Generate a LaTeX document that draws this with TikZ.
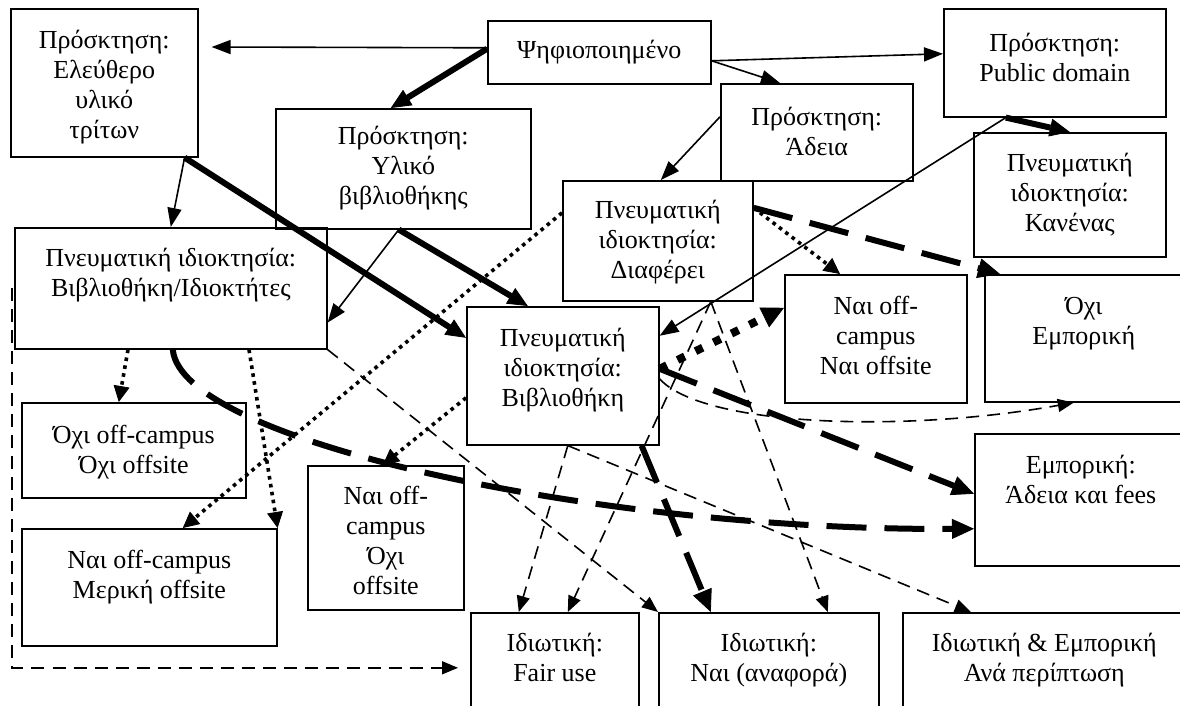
\documentclass[tikz,border=0pt]{standalone}
\usepackage{fontspec}
\setmainfont{Liberation Serif}
\usetikzlibrary{arrows.meta}

% text of a box: width, height, first baseline, lines
\newcommand{\boxtxt}[4]{\parbox[t][#2][t]{#1}{\centering\rule{0pt}{#3}#4}}

\begin{document}
\begin{tikzpicture}[x=0.5pt, y=-0.5pt,
    box/.style={draw, line width=0.8pt, inner sep=0pt, anchor=north west,
      font=\fontsize{13pt}{14.9pt}\selectfont},
    plainarr/.style={line width=0.8pt, -{Triangle[length=9.5pt,width=7pt]}},
    heavyarr/.style={line width=3pt, -{Triangle[length=10pt,width=9pt,line width=0.4pt]}},
    dotarr/.style={line width=1.8pt, dash pattern=on 1.8pt off 2.2pt,
      -{Triangle[length=8pt,width=8pt,line width=0.4pt]}},
    heavydot/.style={line width=4pt, dash pattern=on 4pt off 6pt,
      -{Triangle[length=11pt,width=11pt,line width=0.4pt]}},
    dasharr/.style={line width=0.8pt, dash pattern=on 6.5pt off 4pt,
      -{Triangle[length=8pt,width=6.5pt]}},
    heavydash/.style={line width=3pt, dash pattern=on 20pt off 9pt,
      -{Triangle[length=11pt,width=10pt,line width=0.4pt]}}]
\useasboundingbox (0,0) rectangle (1180,706);
\clip (0,0) rectangle (1180,706);

% Marking box Free
\node[box] (Free) at (10,8) {\boxtxt{93.5pt}{74pt}{20pt}{Πρόσκτηση:\\Ελεύθερο\\υλικό\\τρίτων}};%

% Marking box Digitized
\node[box] (Digitized) at (487,20) {\boxtxt{111.5pt}{31.5pt}{19pt}{Ψηφιοποιημένο}};%

% Marking box LibMat
\node[box] (LibMat) at (275,108) {\boxtxt{127.5pt}{60pt}{18pt}{Πρόσκτηση:\\Υλικό\\βιβλιοθήκης}};%

% Marking box License
\node[box] (License) at (720,83) {\boxtxt{96pt}{48.5pt}{21pt}{Πρόσκτηση:\\Άδεια}};%

% Marking box PD
\node[box] (PD) at (943,8) {\boxtxt{111pt}{54pt}{21.5pt}{Πρόσκτηση:\\Public domain}};%

% Marking box None
\node[box] (None) at (973,132) {\boxtxt{96pt}{62pt}{19.5pt}{Πνευματική\\ιδιοκτησία:\\Κανένας}};%

% Marking box Varies
\node[box] (Varies) at (562,180) {\boxtxt{95pt}{60pt}{19pt}{Πνευματική\\ιδιοκτησία:\\Διαφέρει}};%

% Marking box LibOwners
\node[box] (LibOwners) at (14,227) {\boxtxt{156pt}{60.5pt}{19.5pt}{Πνευματική ιδιοκτησία:\\Βιβλιοθήκη/Ιδιοκτήτες}};%

% Marking box Lib
\node[box] (Lib) at (466,306) {\boxtxt{96pt}{69pt}{20pt}{Πνευματική\\ιδιοκτησία:\\Βιβλιοθήκη}};%

% Marking box YesYes
\node[box] (YesYes) at (784,274) {\boxtxt{91pt}{64pt}{20pt}{Ναι off-\\campus\\Ναι offsite}};%

% Marking box NotCom
\node[box] (NotCom) at (984,274) {\boxtxt{99pt}{63.5pt}{20pt}{Όχι\\Εμπορική}};%

% Marking box NoNo
\node[box] (NoNo) at (21,402) {\boxtxt{112pt}{47.5pt}{20.5pt}{Όχι off-campus\\Όχι offsite}};%

% Marking box YesPart
\node[box] (YesPart) at (21,528) {\boxtxt{127.5pt}{58.5pt}{20pt}{Ναι off-campus\\Μερική offsite}};%

% Marking box YesNo
\node[box] (YesNo) at (307,465) {\boxtxt{78pt}{72pt}{19.5pt}{Ναι off-\\campus\\Όχι\\offsite}};%

% Marking box Commercial
\node[box] (Commercial) at (974,433) {\boxtxt{106pt}{66pt}{20pt}{Εμπορική:\\Άδεια και fees}};%

% Marking box FairUse
\node[box] (FairUse) at (470,612) {\boxtxt{84pt}{55pt}{19.5pt}{Ιδιωτική:\\Fair use}};%

% Marking box YesRef
\node[box] (YesRef) at (658,612) {\boxtxt{110pt}{55pt}{19.5pt}{Ιδιωτική:\\Ναι (αναφορά)}};%

% Marking box Case
\node[box] (Case) at (902,612) {\boxtxt{141.5pt}{55pt}{19.5pt}{Ιδιωτική \& Εμπορική\\Ανά περίπτωση}};%

% Drawing arrows out of Digitized
\draw[plainarr] ([yshift=2.25pt]Digitized.west) -- ([xshift=6.5pt,yshift=-19.5pt]Free.north east);%
\draw[heavyarr] ([yshift=1.75pt]Digitized.west) -- ([xshift=-6.25pt]LibMat.north);%
\draw[plainarr] ([yshift=-4.25pt]Digitized.east) -- ([yshift=4.5pt]PD.west);%
\draw[plainarr] ([yshift=-4.25pt]Digitized.east) -- ([xshift=30pt]License.north west);%

% Drawing arrows out of License and PD
\draw[plainarr] ([yshift=7.75pt]License.west) -- ([xshift=1.5pt]Varies.north);%
\draw[heavyarr] ([xshift=-24.5pt]PD.south) -- (None.north);%
\draw[plainarr] ([xshift=-24.5pt]PD.south) -- ([yshift=20pt]Lib.east);%

% Drawing arrows out of Free and LibMat
\draw[plainarr] ([xshift=-7pt]Free.south east) -- (LibOwners.north);%
\draw[heavyarr] ([xshift=-7pt]Free.south east) -- ([yshift=19pt]Lib.west);%
\draw[heavyarr] ([xshift=-2.25pt]LibMat.south) -- ([xshift=-17.5pt]Lib.north);%
\draw[plainarr] ([xshift=-2.25pt]LibMat.south) -- ([yshift=13.5pt]LibOwners.south east);%

% Drawing arrows out of Varies
\draw[dotarr] ([yshift=16.5pt]Varies.east) -- ([xshift=28pt]YesYes.north west);%
\draw[heavydash] ([yshift=16.5pt]Varies.east) -- ([xshift=8pt]NotCom.north west);%
\draw[dotarr] ([yshift=14pt]Varies.west) -- ([xshift=16.75pt]YesPart.north);%
\draw[dasharr] ([xshift=26.5pt]Varies.south) -- ([xshift=6.5pt]FairUse.north);%
\draw[dasharr] ([xshift=26.5pt]Varies.south) -- ([xshift=29.5pt]YesRef.north);%

% Drawing arrows out of LibOwners
\draw[dotarr] ([xshift=57pt]LibOwners.south west) -- ([xshift=-7.5pt]NoNo.north);%
\draw[dotarr] ([xshift=117.5pt]LibOwners.south west) -- (YesPart.north east);%
\draw[heavydash] ([xshift=1pt]LibOwners.south) .. controls ([xshift=5pt,yshift=-46pt]LibOwners.south)
  and ([xshift=-187pt,yshift=-15.5pt]Commercial.west) .. ([yshift=-14.5pt]Commercial.west);%
\draw[dasharr] ([xshift=-1pt]LibOwners.west) |- ([xshift=-6pt]FairUse.west);%
\draw[dasharr] (LibOwners.south east) -- (YesRef.north west);%

% Drawing arrows out of Lib
\draw[heavydot] ([yshift=3.5pt]Lib.east) -- ([yshift=15.5pt]YesYes.west);%
\draw[heavydash] ([yshift=3.5pt]Lib.east) -- ([yshift=3pt]Commercial.west);%
\draw[dasharr] ([yshift=-1.5pt]Lib.east) .. controls ([xshift=21pt,yshift=-25pt]Lib.east)
  and ([xshift=-91.5pt,yshift=-15.5pt]NotCom.south) .. ([xshift=-5pt]NotCom.south);%
\draw[dasharr] ([xshift=2.5pt]Lib.south) -- ([xshift=-18pt]FairUse.north);%
\draw[dasharr] ([xshift=2.5pt]Lib.south) -- ([xshift=-36.75pt]Case.north);%
\draw[heavydash] ([xshift=-9pt]Lib.south east) -- ([xshift=-29pt]YesRef.north);%
\draw[dotarr] ([yshift=-11pt]Lib.west) -- ([xshift=-1.5pt]YesNo.north);%
\end{tikzpicture}
\end{document}
